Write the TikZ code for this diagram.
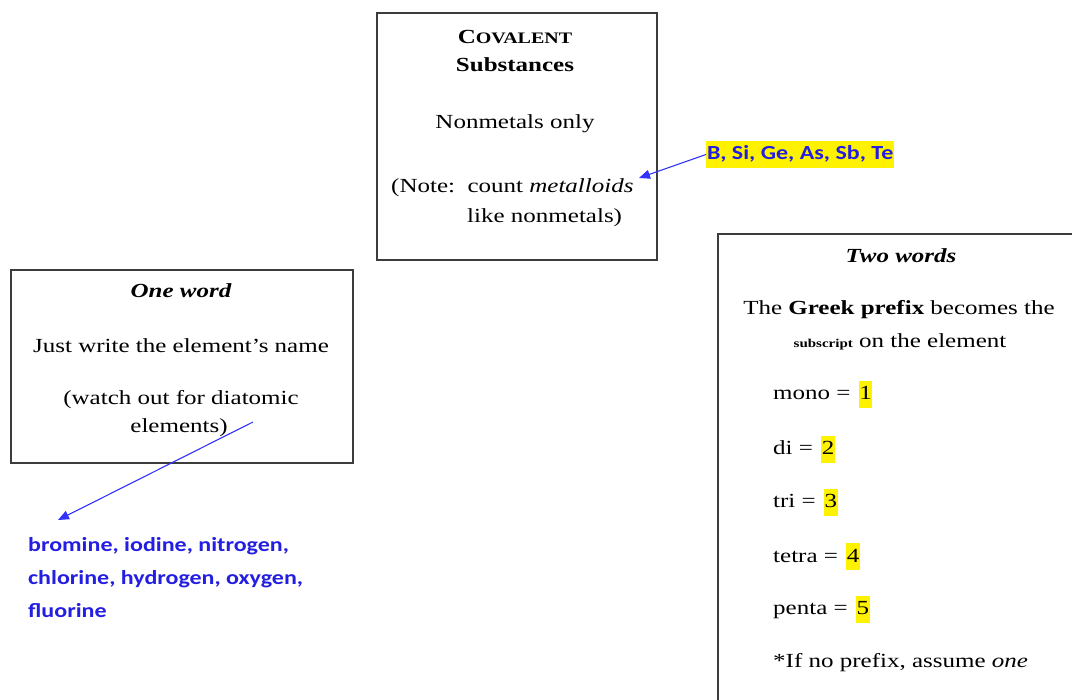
\documentclass[tikz,border=0pt]{standalone}
\usepackage{fontspec}
\setmainfont[FakeStretch=1.25]{Liberation Serif}
\newfontfamily\calfont[FakeStretch=1.2]{Carlito}
\usetikzlibrary{arrows.meta,positioning}
\definecolor{noteblue}{RGB}{35,30,225}
\definecolor{pointerblue}{RGB}{50,50,250}
\definecolor{boxgray}{RGB}{60,60,60}

\begin{document}
\begin{tikzpicture}[x=1pt,y=-1pt,
	every node/.style={inner sep=0pt,font=\fontsize{20}{24}\selectfont},
	box/.style={draw=boxgray,line width=1.3pt},
	hl/.style={fill=yellow,inner xsep=0.5pt,inner ysep=0pt,text height=19pt,text depth=8pt},
	bluetext/.style={text=noteblue,align=left,font=\calfont\bfseries\fontsize{20}{33}\selectfont},
	pointer/.style={draw=pointerblue,line width=1.1pt,-{Triangle[length=11pt,width=9pt]}}]
	\useasboundingbox (0,0) rectangle (1072,700);
	\clip (0,0) rectangle (1072,700);
	% boxes
	\node[box,minimum width=280,minimum height=247] (covbox) at (517,136.5) {};
	\node[box,minimum width=342,minimum height=193] (onebox) at (182,366.5) {};
	\node[box,minimum width=362,minimum height=490] (twobox) at (899,479) {};
	% covalent box
	\node[anchor=base] (covtitle) at (515,44) {\bfseries C{\fontsize{16}{20}\selectfont OVALENT}};
	\node[anchor=base] (covsub) at (515,72) {\bfseries Substances};
	\node[anchor=base] (nonmet) at (515,129) {Nonmetals only};
	\node[anchor=base west] (note1) at (391,193) {(Note:\ \ count \textit{metalloids}};
	\node[anchor=base west] (note2) at (467,223) {like nonmetals)};
	\node[hl,anchor=west,inner xsep=1pt,font=\calfont\bfseries\fontsize{20}{24}\selectfont,text=noteblue] (metals) at (706,154.5) {B, Si, Ge, As, Sb, Te};
	\coordinate (noteend) at (639,178);
	\draw[pointer] (metals.west) -- (noteend);
	% one word box
	\node[anchor=base] (onetitle) at (181,298) {\bfseries\itshape One word};
	\node[anchor=base] (just) at (181,353) {Just write the element’s name};
	\node[anchor=base] (watch1) at (181,405) {(watch out for diatomic};
	\node[anchor=base] (watch2) at (179,433) {elements)};
	\node[bluetext,anchor=north west] (diatomic) at (28,537) {bromine, iodine, nitrogen,\\chlorine, hydrogen, oxygen,\\fluorine};
	\coordinate (diastart) at (253,422);
	\coordinate (diaend) at (58,520);
	\draw[pointer] (diastart) -- (diaend);
	% two words box
	\node[anchor=base] (twotitle) at (901,263) {\bfseries\itshape Two words};
	\node[anchor=base] (greek1) at (899,315) {The \textbf{Greek prefix} becomes the};
	\node[anchor=base] (greek2) at (900,348) {{\bfseries\fontsize{12}{14}\selectfont subscript} on the element};
	\node[anchor=base west] (mono) at (773,400) {mono =};
	\node[hl,base right=8pt of mono] (one) {1};
	\node[anchor=base west] (di) at (773,455) {di =};
	\node[hl,base right=8pt of di] (two) {2};
	\node[anchor=base west] (tri) at (773,508) {tri =};
	\node[hl,base right=8pt of tri] (three) {3};
	\node[anchor=base west] (tetra) at (773,562) {tetra =};
	\node[hl,base right=8pt of tetra] (four) {4};
	\node[anchor=base west] (penta) at (773,615) {penta =};
	\node[hl,base right=8pt of penta] (five) {5};
	\node[anchor=base west] (noprefix) at (773,667) {*If no prefix, assume \textit{one}};
\end{tikzpicture}
\end{document}
